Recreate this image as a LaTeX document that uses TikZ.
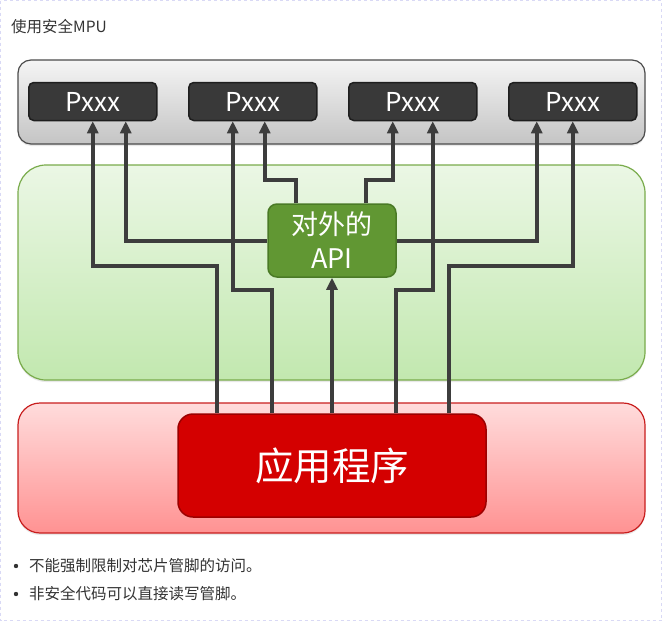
\documentclass[tikz,border=0pt]{standalone}
\usepackage{fontspec}
\setmainfont{Noto Sans CJK SC}
\usetikzlibrary{positioning,arrows.meta,shadows}

\definecolor{pagerule}{HTML}{D9D9F5}
\definecolor{bodytext}{HTML}{333333}
\definecolor{wirecol}{HTML}{3D3D3D}
\definecolor{pinfill}{HTML}{393939}
\definecolor{pinedge}{HTML}{1E1E1E}
\definecolor{apitop}{HTML}{EBF7E5}
\definecolor{apibottom}{HTML}{C2E8AF}
\definecolor{apiline}{HTML}{79AB4B}
\definecolor{apifill}{HTML}{619733}
\definecolor{apiedge}{HTML}{4A7A26}
\definecolor{apptop}{HTML}{FFDCDC}
\definecolor{appbottom}{HTML}{FF9292}
\definecolor{appline}{HTML}{C81E1E}
\definecolor{appfill}{HTML}{D40000}
\definecolor{appedge}{HTML}{9C0000}

\begin{document}
\begin{tikzpicture}[
    x=1pt, y=-1pt,
    area/.style={rectangle, rounded corners=#1, line width=1.2pt, minimum width=627pt,
      drop shadow={opacity=0.18, shadow xshift=0pt, shadow yshift=-2pt}},
    pinbox/.style={rectangle, draw=pinedge, line width=1.5pt, fill=pinfill, rounded corners=5pt,
      minimum width=128pt, minimum height=38pt, text=white, font=\fontsize{26}{26}\selectfont},
    apibox/.style={rectangle, draw=apiedge, line width=1.5pt, fill=apifill, rounded corners=9pt,
      minimum width=128pt, minimum height=73pt, inner sep=0pt, text=white, align=center,
      font=\fontsize{27}{34}\selectfont},
    appbox/.style={rectangle, draw=appedge, line width=1.5pt, fill=appfill, rounded corners=15pt,
      minimum width=308pt, minimum height=103pt, text=white, font=\fontsize{38.5}{38.5}\selectfont},
    note/.style={anchor=west, text=bodytext, inner sep=0pt, font=\fontsize{15.5}{15.5}\selectfont},
    wire/.style={line width=4pt, draw=wirecol, -{Triangle[width=11pt,length=12pt]}}
]
\useasboundingbox (0,0) rectangle (662,621);
\draw[pagerule, dashed, line width=0.8pt] (0.5,0.5) rectangle (661.5,620.5);

\node[note] (title) at (11,27) {使用安全MPU};

% three layers
\node[area=13pt, draw=black!70, top color=black!4, bottom color=black!23, minimum height=84pt] (pinbar) at (331.5,102) {};
\node[area=28pt, draw=apiline, top color=apitop, bottom color=apibottom, minimum height=215pt] (apiarea) at (331.5,272.5) {};
\node[area=22pt, draw=appline, top color=apptop, bottom color=appbottom, minimum height=130pt] (apparea) at (331.5,468) {};

% pins
\node[pinbox] (p1) at (92.75,101.5) {Pxxx};
\node[pinbox, right=30.5pt of p1] (p2) {Pxxx};
\node[pinbox, right=30.5pt of p2] (p3) {Pxxx};
\node[pinbox, right=30.5pt of p3] (p4) {Pxxx};

\node[apibox] (api) at (332,240.5) {对外的\\API};
\node[appbox] (app) at (332,465.5) {应用程序};

% direct access from the application
\draw[wire] ([xshift=-115pt]app.north) -- ++(0,147pt) -| (p1.south);
\draw[wire] ([xshift=-60pt]app.north) -- ++(0,123pt) -| ([xshift=-20pt]p2.south);
\draw[wire] ([xshift=64pt]app.north) -- ++(0,123pt) -| ([xshift=20pt]p3.south);
\draw[wire] ([xshift=117pt]app.north) -- ++(0,147pt) -| (p4.south);

% access through the API
\draw[wire] (app.north) -- (api.south);
\draw[wire] (api.west) -| ([xshift=33pt]p1.south);
\draw[wire] ([xshift=-36pt]api.north) -- ++(0,23pt) -| ([xshift=12pt]p2.south);
\draw[wire] ([xshift=34pt]api.north) -- ++(0,23pt) -| ([xshift=-20pt]p3.south);
\draw[wire] (api.east) -| ([xshift=-36pt]p4.south);

% notes
\fill[bodytext] (16,566) circle (2.2pt);
\node[note] (note1) at (29,566) {不能强制限制对芯片管脚的访问。};
\fill[bodytext] (16,594) circle (2.2pt);
\node[note] (note2) at (29,594) {非安全代码可以直接读写管脚。};
\end{tikzpicture}
\end{document}
